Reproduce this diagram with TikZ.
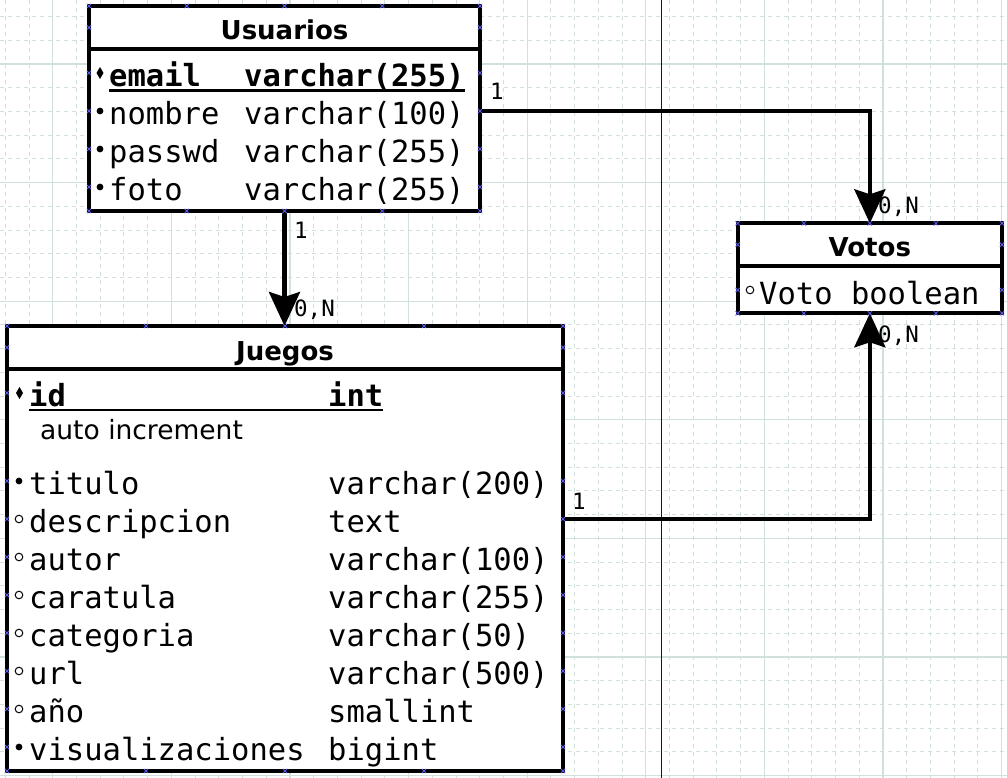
\documentclass[tikz,border=0pt]{standalone}
\usepackage{fontspec}
\setmainfont{DejaVu Sans}
\setmonofont{DejaVu Sans Mono}
\usetikzlibrary{arrows.meta}
\definecolor{rejilla}{RGB}{208,224,221}
\definecolor{pagina}{RGB}{10,10,130}
\definecolor{puntoc}{RGB}{90,90,235}
\begin{document}
\begin{tikzpicture}[x=1pt,y=-1pt]
  \tikzset{
    tabla/.style={draw, line width=4.3pt, fill=white, inner sep=0pt, outer sep=0pt, anchor=north west},
    borde/.style={line width=4.3pt},
    titulo/.style={font=\fontsize{26}{30}\selectfont\bfseries, anchor=base, inner sep=0pt},
    campo/.style={font=\fontsize{30.5}{36}\selectfont\ttfamily, anchor=base west, inner sep=0pt},
    clave/.style={campo, font=\fontsize{30.5}{36}\selectfont\ttfamily\bfseries},
    nota/.style={font=\fontsize{26.5}{30}\selectfont, anchor=base west, inner sep=0pt},
    card/.style={font=\fontsize{22.5}{26}\selectfont\ttfamily, anchor=base west, inner sep=0pt},
    rel/.style={line width=4.3pt, -{Stealth[length=34pt, width=31pt, inset=5pt]}},
    subrayado/.style={line width=2.5pt},
    fino/.style={rejilla, line width=1pt, dash pattern=on 4pt off 4pt},
    marcax/.style={puntoc, line width=0.8pt},
  }
  \def\pk(#1){\fill (#1) +(0,-6) -- +(3.5,0) -- +(0,6) -- +(-3.5,0) -- cycle;}
  \def\nn(#1){\fill (#1) circle (3.4pt);}
  \def\nul(#1){\draw[line width=1pt] (#1) circle (3.8pt);}
  \def\marca(#1){\draw[marcax] (#1) +(-2.2,-2.2) -- +(2.2,2.2) +(-2.2,2.2) -- +(2.2,-2.2);}

  \useasboundingbox (0,0) rectangle (1007,778);
  \fill[white] (0,0) rectangle (1007,778);
  % rejilla
  \foreach \i in {0,...,42}
    \draw[fino] ({5.34+23.72*\i},0) -- ++(0,778);
  \foreach \j in {0,...,32}
    \draw[fino] (0,{16.56+23.72*\j}) -- ++(1007,0);
  \foreach \i in {0,...,8}
    \draw[rejilla, line width=1.2pt] ({52.7+118.6*\i},0) -- ++(0,778);
  \foreach \j in {0,...,6}
    \draw[rejilla, line width=1.2pt] (0,{64+118.6*\j}) -- ++(1007,0);
  \draw[pagina, line width=1.2pt] (661.3,0) -- (661.3,778);

  % Usuarios
  \node[tabla, minimum width=391pt, minimum height=205pt] (usuarios) at (89,6) {};
  \draw[borde] (usuarios.west |- 0,49) -- (usuarios.east |- 0,49);
  \node[titulo] (t-usuarios) at (284.5,40) {Usuarios};
  \node[clave] (u-email) at (109,86.5) {email};
  \node[clave] (u-email-t) at (244,86.5) {varchar(255)};
  \draw[subrayado] ([yshift=-4pt]u-email.base west) -- ([yshift=-4pt]u-email-t.base east);
  \node[campo] (u-nombre) at (109,124.5) {nombre};
  \node[campo] (u-nombre-t) at (244,124.5) {varchar(100)};
  \node[campo] (u-passwd) at (109,162.5) {passwd};
  \node[campo] (u-passwd-t) at (244,162.5) {varchar(255)};
  \node[campo] (u-foto) at (109,200.5) {foto};
  \node[campo] (u-foto-t) at (244,200.5) {varchar(255)};
  \coordinate (b-email) at (100,73);
  \coordinate (b-nombre) at (100,111);
  \pk(b-email) \nn(b-nombre) \nn(100,149) \nn(100,187)

  % Votos
  \node[tabla, minimum width=264.3pt, minimum height=90pt] (votos) at (737.7,223.3) {};
  \draw[borde] (votos.west |- 0,266) -- (votos.east |- 0,266);
  \node[titulo] (t-votos) at (869.8,257) {Votos};
  \node[campo] (v-voto) at (759,304) {Voto boolean};
  \nul(750,290)

  % Juegos
  \node[tabla, minimum width=556pt, minimum height=445pt] (juegos) at (7,326) {};
  \draw[borde] (juegos.west |- 0,369) -- (juegos.east |- 0,369);
  \node[titulo] (t-juegos) at (285,360) {Juegos};
  \node[clave] (j-id) at (29,406) {id};
  \node[clave] (j-id-t) at (328,406) {int};
  \draw[subrayado] ([yshift=-4pt]j-id.base west) -- ([yshift=-4pt]j-id-t.base east);
  \node[nota] (j-auto) at (40,439) {auto increment};
  \node[campo] (j-titulo) at (29,494) {titulo};
  \node[campo] (j-titulo-t) at (328,494) {varchar(200)};
  \node[campo] (j-descripcion) at (29,532) {descripcion};
  \node[campo] (j-descripcion-t) at (328,532) {text};
  \node[campo] (j-autor) at (29,570) {autor};
  \node[campo] (j-autor-t) at (328,570) {varchar(100)};
  \node[campo] (j-caratula) at (29,608) {caratula};
  \node[campo] (j-caratula-t) at (328,608) {varchar(255)};
  \node[campo] (j-categoria) at (29,646) {categoria};
  \node[campo] (j-categoria-t) at (328,646) {varchar(50)};
  \node[campo] (j-url) at (29,684) {url};
  \node[campo] (j-url-t) at (328,684) {varchar(500)};
  \node[campo] (j-anio) at (29,722) {año};
  \node[campo] (j-anio-t) at (328,722) {smallint};
  \node[campo] (j-visualizaciones) at (29,760) {visualizaciones};
  \node[campo] (j-visualizaciones-t) at (328,760) {bigint};
  \coordinate (b-descripcion) at (19,519);
  \pk(19.5,393) \nn(19,481) \nul(b-descripcion) \nul(19,557) \nul(19,595)
  \nul(19,633) \nul(19,671) \nul(19,709) \nn(19,747)

  % relaciones
  \draw[rel] (usuarios.east |- b-nombre) -| (votos.north);
  \draw[rel] (usuarios.south) -- (usuarios.south |- juegos.north);
  \draw[rel] (juegos.east |- b-descripcion) -| (votos.south);
  \node[card] (c-uv1) at (490,100) {1};
  \node[card] (c-uvN) at (878,213.5) {0,N};
  \node[card] (c-uj1) at (294,239) {1};
  \node[card] (c-ujN) at (294,316.7) {0,N};
  \node[card] (c-jv1) at (572,509) {1};
  \node[card] (c-jvN) at (878,342.7) {0,N};

  % puntos de conexion
  \foreach \x in {89,186.75,284.5,382.25,480} {\marca(\x,6) \marca(\x,211)}
  \foreach \y in {27.5,73,111,149,187} {\marca(89,\y) \marca(480,\y)}
  \foreach \x in {7,146,285,424,563} {\marca(\x,326) \marca(\x,771)}
  \foreach \y in {347.5,393,481,519,557,595,633,671,709,747} {\marca(7,\y) \marca(563,\y)}
  \foreach \x in {737.7,803.8,869.8,935.9,1002} {\marca(\x,223.3) \marca(\x,313.3)}
  \foreach \y in {244.7,290} {\marca(737.7,\y) \marca(1002,\y)}
\end{tikzpicture}
\end{document}
